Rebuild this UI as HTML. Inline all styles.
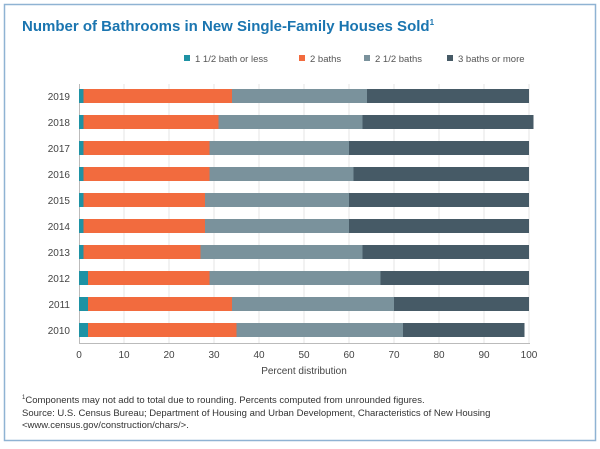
<!DOCTYPE html>
<html><head><style>
body{margin:0;width:600px;height:444px;background:#fff;overflow:hidden;font-family:"Liberation Sans",sans-serif}
</style></head><body>
<svg width="600" height="444" xmlns="http://www.w3.org/2000/svg" font-family="Liberation Sans, sans-serif">
<rect x="4.5" y="4.5" width="591" height="436" fill="#fff" stroke="#8fb3d3" stroke-width="1.5"/>
<text x="22" y="31" font-size="15" font-weight="bold" fill="#1a75b0">Number of Bathrooms in New Single-Family Houses Sold<tspan font-size="8" dy="-6">1</tspan></text>
<g font-size="9.5" fill="#555">
<rect x="184" y="55" width="6" height="6" fill="#1e92a4"/><text x="195" y="62">1 1/2 bath or less</text>
<rect x="299" y="55" width="6" height="6" fill="#f26b3e"/><text x="310" y="62">2 baths</text>
<rect x="364" y="55" width="6" height="6" fill="#7a929c"/><text x="375" y="62">2 1/2 baths</text>
<rect x="447" y="55" width="6" height="6" fill="#465a66"/><text x="458" y="62">3 baths or more</text>
</g>
<g stroke="#e6e6e6" stroke-width="1">
<line x1="124" y1="84" x2="124" y2="343"/><line x1="169" y1="84" x2="169" y2="343"/><line x1="214" y1="84" x2="214" y2="343"/><line x1="259" y1="84" x2="259" y2="343"/><line x1="304" y1="84" x2="304" y2="343"/><line x1="349" y1="84" x2="349" y2="343"/><line x1="394" y1="84" x2="394" y2="343"/><line x1="439" y1="84" x2="439" y2="343"/><line x1="484" y1="84" x2="484" y2="343"/><line x1="529" y1="84" x2="529" y2="343"/>
</g>
<g id="bars"></g>
<line x1="79.5" y1="84" x2="79.5" y2="343" stroke="#bbb"/>
<line x1="79" y1="343.5" x2="530" y2="343.5" stroke="#bbb"/>
<g font-size="10" fill="#444" text-anchor="middle">
<text x="79" y="358">0</text><text x="124" y="358">10</text><text x="169" y="358">20</text><text x="214" y="358">30</text><text x="259" y="358">40</text><text x="304" y="358">50</text><text x="349" y="358">60</text><text x="394" y="358">70</text><text x="439" y="358">80</text><text x="484" y="358">90</text><text x="529" y="358">100</text>
<text x="304" y="374">Percent distribution</text>
</g>
<g font-size="10" fill="#444" text-anchor="end">
<text x="70" y="100">2019</text><text x="70" y="126">2018</text><text x="70" y="152">2017</text><text x="70" y="178">2016</text><text x="70" y="204">2015</text><text x="70" y="230">2014</text><text x="70" y="256">2013</text><text x="70" y="282">2012</text><text x="70" y="308">2011</text><text x="70" y="334">2010</text>
</g>
<g font-size="9.5" fill="#333">
<text x="22" y="403"><tspan font-size="6" dy="-4">1</tspan><tspan dy="4">Components may not add to total due to rounding. Percents computed from unrounded figures.</tspan></text>
<text x="22" y="416">Source: U.S. Census Bureau; Department of Housing and Urban Development, Characteristics of New Housing</text>
<text x="22" y="428">&lt;www.census.gov/construction/chars/&gt;.</text>
</g>
<g>
<!-- bars: x=79+4.5*v -->
<rect x="79" y="89" width="4.5" height="14" fill="#1e92a4"/><rect x="83.5" y="89" width="148.5" height="14" fill="#f26b3e"/><rect x="232" y="89" width="135" height="14" fill="#7a929c"/><rect x="367" y="89" width="162" height="14" fill="#465a66"/>
<rect x="79" y="115" width="4.5" height="14" fill="#1e92a4"/><rect x="83.5" y="115" width="135" height="14" fill="#f26b3e"/><rect x="218.5" y="115" width="144" height="14" fill="#7a929c"/><rect x="362.5" y="115" width="171" height="14" fill="#465a66"/>
<rect x="79" y="141" width="4.5" height="14" fill="#1e92a4"/><rect x="83.5" y="141" width="126" height="14" fill="#f26b3e"/><rect x="209.5" y="141" width="139.5" height="14" fill="#7a929c"/><rect x="349" y="141" width="180" height="14" fill="#465a66"/>
<rect x="79" y="167" width="4.5" height="14" fill="#1e92a4"/><rect x="83.5" y="167" width="126" height="14" fill="#f26b3e"/><rect x="209.5" y="167" width="144" height="14" fill="#7a929c"/><rect x="353.5" y="167" width="175.5" height="14" fill="#465a66"/>
<rect x="79" y="193" width="4.5" height="14" fill="#1e92a4"/><rect x="83.5" y="193" width="121.5" height="14" fill="#f26b3e"/><rect x="205" y="193" width="144" height="14" fill="#7a929c"/><rect x="349" y="193" width="180" height="14" fill="#465a66"/>
<rect x="79" y="219" width="4.5" height="14" fill="#1e92a4"/><rect x="83.5" y="219" width="121.5" height="14" fill="#f26b3e"/><rect x="205" y="219" width="144" height="14" fill="#7a929c"/><rect x="349" y="219" width="180" height="14" fill="#465a66"/>
<rect x="79" y="245" width="4.5" height="14" fill="#1e92a4"/><rect x="83.5" y="245" width="117" height="14" fill="#f26b3e"/><rect x="200.5" y="245" width="162" height="14" fill="#7a929c"/><rect x="362.5" y="245" width="166.5" height="14" fill="#465a66"/>
<rect x="79" y="271" width="9" height="14" fill="#1e92a4"/><rect x="88" y="271" width="121.5" height="14" fill="#f26b3e"/><rect x="209.5" y="271" width="171" height="14" fill="#7a929c"/><rect x="380.5" y="271" width="148.5" height="14" fill="#465a66"/>
<rect x="79" y="297" width="9" height="14" fill="#1e92a4"/><rect x="88" y="297" width="144" height="14" fill="#f26b3e"/><rect x="232" y="297" width="162" height="14" fill="#7a929c"/><rect x="394" y="297" width="135" height="14" fill="#465a66"/>
<rect x="79" y="323" width="9" height="14" fill="#1e92a4"/><rect x="88" y="323" width="148.5" height="14" fill="#f26b3e"/><rect x="236.5" y="323" width="166.5" height="14" fill="#7a929c"/><rect x="403" y="323" width="121.5" height="14" fill="#465a66"/>
</g>
</svg>
</body></html>
